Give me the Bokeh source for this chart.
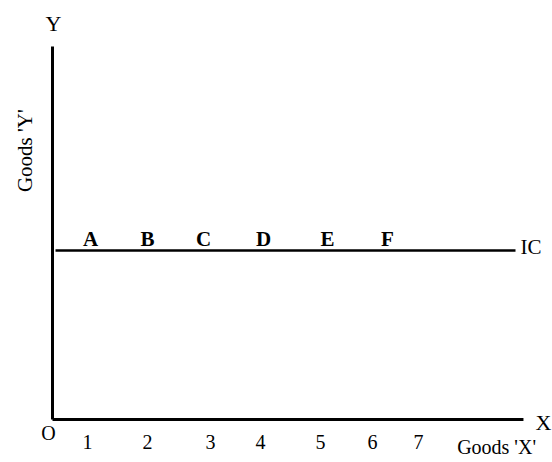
import math
from bokeh.plotting import figure
from bokeh.models import Range1d
from bokeh.core.properties import value
from bokeh.embed import file_html
from bokeh.resources import INLINE

# ---- data ----
tick_labels = ["1", "2", "3", "4", "5", "6", "7"]
tick_pos = [0.625, 1.696, 2.82, 3.714, 4.786, 5.714, 6.536]
point_labels = ["A", "B", "C", "D", "E", "F"]
point_pos = [0.679, 1.696, 2.696, 3.768, 4.911, 5.982]
ic_level = 3.018
ic_start = 0.054
ic_end = 8.268
x_axis_end = 8.41
y_axis_end = 6.66

FONT = value("Liberation Serif")

p = figure(width=552, height=462, output_backend="svg", toolbar_location=None,
           x_range=Range1d(-0.9286, 8.9286), y_range=Range1d(-0.7679, 7.482),
           x_axis_location=None, y_axis_location=None, min_border=0,
           outline_line_color=None, background_fill_color="white")
p.grid.visible = False

# axes
p.segment(x0=[0, 0], y0=[0, 0], x1=[x_axis_end, 0], y1=[0, y_axis_end],
          line_color="black", line_width=3)

# indifference curve (horizontal)
p.segment(x0=[ic_start], y0=[ic_level], x1=[ic_end], y1=[ic_level],
          line_color="black", line_width=2.5)

# point labels A-F
p.text(x=point_pos, y=[ic_level + 0.214] * len(point_pos), text=point_labels,
       text_font=FONT, text_font_size="21px", text_font_style="bold",
       text_align="center", text_baseline="middle", text_color="black")

# IC label
p.text(x=[8.357], y=[ic_level + 0.07], text=["IC"], text_font=FONT,
       text_font_size="21px", text_align="left", text_baseline="middle",
       text_color="black")

# tick labels
p.text(x=tick_pos, y=[-0.41] * len(tick_pos), text=tick_labels,
       text_font=FONT, text_font_size="20px", text_align="center",
       text_baseline="middle", text_color="black")

# origin, axis letters
p.text(x=[-0.071], y=[-0.25], text=["O"], text_font=FONT, text_font_size="20px",
       text_align="center", text_baseline="middle", text_color="black")
p.text(x=[8.768], y=[-0.054], text=["X"], text_font=FONT, text_font_size="22px",
       text_align="center", text_baseline="middle", text_color="black")
p.text(x=[0.018], y=[7.07], text=["Y"], text_font=FONT, text_font_size="22px",
       text_align="center", text_baseline="middle", text_color="black")

# axis titles
p.text(x=[7.93], y=[-0.50], text=["Goods 'X'"], text_font=FONT,
       text_font_size="20px", text_align="center", text_baseline="middle",
       text_color="black")
p.text(x=[-0.50], y=[4.80], text=["Goods 'Y'"], text_font=FONT,
       text_font_size="21px", text_align="center", text_baseline="middle",
       angle=math.pi / 2, text_color="black")

open("out.html", "w").write(file_html(p, INLINE))
